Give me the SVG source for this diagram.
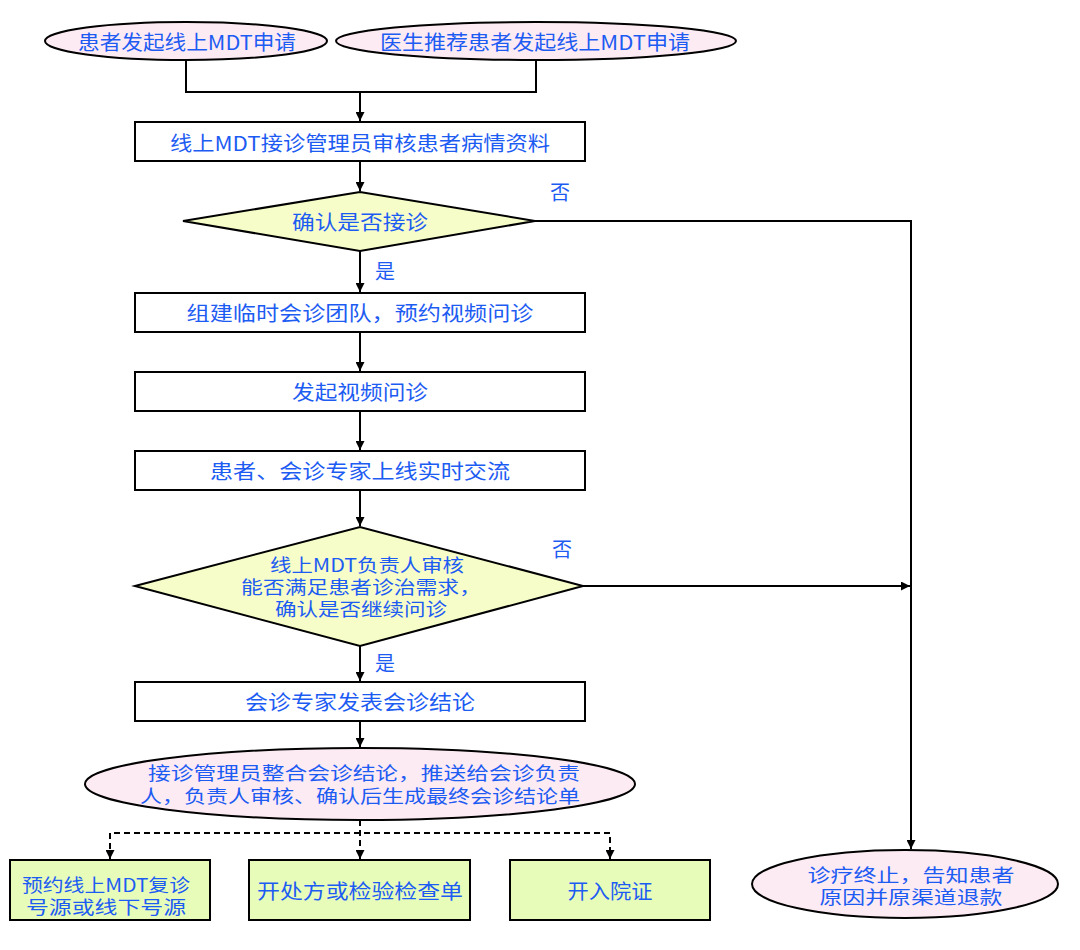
<svg xmlns="http://www.w3.org/2000/svg" width="1080" height="950" viewBox="0 0 1080 950">
<defs>
<marker id="ah" viewBox="0 0 10 10" refX="10" refY="5" markerWidth="9" markerHeight="9" markerUnits="userSpaceOnUse" orient="auto">
<path d="M0,0 L10,5 L0,10 Z" fill="#000"/>
</marker>
<style>
.t{font-family:"Noto Sans CJK SC","Noto Sans",sans-serif;font-size:20px;fill:#1d5cf2;text-anchor:middle;dominant-baseline:central;}
.m{font-size:18px;}
.box{fill:#fff;stroke:#000;stroke-width:2;}
.ell{fill:#fdebf3;stroke:#000;stroke-width:2;}
.dia{fill:#f7fdc9;stroke:#000;stroke-width:2;}
.grn{fill:#e8fcba;stroke:#000;stroke-width:2;}
.ln{fill:none;stroke:#000;stroke-width:2;}
.dl{fill:none;stroke:#000;stroke-width:2;stroke-dasharray:6,4;}
</style>
</defs>
<rect width="1080" height="950" fill="#fff"/>

<g id="connectors">
<path class="ln" d="M186,60 V92 H536 V60"/>
<path class="ln" d="M360,92 V121" marker-end="url(#ah)"/>
<path class="ln" d="M360,161 V191" marker-end="url(#ah)"/>
<path class="ln" d="M535,221 H911 V849" marker-end="url(#ah)"/>
<path class="ln" d="M360,251 V292" marker-end="url(#ah)"/>
<path class="ln" d="M360,332 V371" marker-end="url(#ah)"/>
<path class="ln" d="M360,411 V450" marker-end="url(#ah)"/>
<path class="ln" d="M360,490 V526" marker-end="url(#ah)"/>
<path class="ln" d="M583,586 H910" marker-end="url(#ah)"/>
<path class="ln" d="M360,646 V681" marker-end="url(#ah)"/>
<path class="ln" d="M360,721 V747" marker-end="url(#ah)"/>
<path class="dl" d="M360,820 V859"/>
<path class="dl" d="M110,859 V833 H610 V859"/>
<path class="ln" d="M110,850 V859" marker-end="url(#ah)"/>
<path class="ln" d="M360,850 V859" marker-end="url(#ah)"/>
<path class="ln" d="M610,850 V859" marker-end="url(#ah)"/>
<text class="t" x="560" y="191">否</text>
<text class="t" x="385" y="270">是</text>
<text class="t" x="562" y="548">否</text>
<text class="t" x="385" y="662">是</text>
</g>

<g id="start1">
<ellipse class="ell" cx="186" cy="41" rx="141" ry="19"/>
<text class="t" x="187" y="41" textLength="218" lengthAdjust="spacingAndGlyphs">患者发起线上MDT申请</text>
</g>
<g id="start2">
<ellipse class="ell" cx="536" cy="41" rx="200" ry="19"/>
<text class="t" x="535" y="41" textLength="310" lengthAdjust="spacingAndGlyphs">医生推荐患者发起线上MDT申请</text>
</g>
<g id="review">
<rect class="box" x="135" y="122" width="450" height="39"/>
<text class="t" x="360" y="142" textLength="380" lengthAdjust="spacingAndGlyphs">线上MDT接诊管理员审核患者病情资料</text>
</g>
<g id="decide1">
<polygon class="dia" points="183,221 360,192 535,221 360,251"/>
<text class="t" x="360" y="221" textLength="136" lengthAdjust="spacingAndGlyphs">确认是否接诊</text>
</g>
<g id="team">
<rect class="box" x="135" y="293" width="450" height="39"/>
<text class="t" x="360" y="312" textLength="347" lengthAdjust="spacingAndGlyphs">组建临时会诊团队，预约视频问诊</text>
</g>
<g id="video">
<rect class="box" x="135" y="372" width="450" height="39"/>
<text class="t" x="360" y="391" textLength="136" lengthAdjust="spacingAndGlyphs">发起视频问诊</text>
</g>
<g id="online">
<rect class="box" x="135" y="451" width="450" height="39"/>
<text class="t" x="360" y="470" textLength="300" lengthAdjust="spacingAndGlyphs">患者、会诊专家上线实时交流</text>
</g>
<g id="decide2">
<polygon class="dia" points="135,586 360,527 583,586 360,646"/>
<text class="t m"><tspan x="367" y="564" textLength="194" lengthAdjust="spacingAndGlyphs">线上MDT负责人审核</tspan><tspan x="361" y="586" textLength="240" lengthAdjust="spacingAndGlyphs">能否满足患者诊治需求，</tspan><tspan x="361" y="608" textLength="172" lengthAdjust="spacingAndGlyphs">确认是否继续问诊</tspan></text>
</g>
<g id="conclusion">
<rect class="box" x="135" y="682" width="450" height="39"/>
<text class="t" x="360" y="701" textLength="230" lengthAdjust="spacingAndGlyphs">会诊专家发表会诊结论</text>
</g>
<g id="integrate">
<ellipse class="ell" cx="360" cy="784" rx="275" ry="36"/>
<text class="t m"><tspan x="364" y="772" textLength="432" lengthAdjust="spacingAndGlyphs">接诊管理员整合会诊结论，推送给会诊负责</tspan><tspan x="360" y="795" textLength="440" lengthAdjust="spacingAndGlyphs">人，负责人审核、确认后生成最终会诊结论单</tspan></text>
</g>
<g id="revisit">
<rect class="grn" x="10" y="860" width="200" height="60"/>
<text class="t m"><tspan x="106" y="884" textLength="168" lengthAdjust="spacingAndGlyphs">预约线上MDT复诊</tspan><tspan x="106" y="906" textLength="160" lengthAdjust="spacingAndGlyphs">号源或线下号源</tspan></text>
</g>
<g id="prescribe">
<rect class="grn" x="249" y="860" width="221" height="60"/>
<text class="t" x="360" y="890" textLength="206" lengthAdjust="spacingAndGlyphs">开处方或检验检查单</text>
</g>
<g id="admit">
<rect class="grn" x="510" y="860" width="200" height="60"/>
<text class="t" x="610" y="890" textLength="85" lengthAdjust="spacingAndGlyphs">开入院证</text>
</g>
<g id="terminate">
<ellipse class="ell" cx="905" cy="884" rx="153" ry="34"/>
<text class="t m"><tspan x="911" y="874" textLength="207" lengthAdjust="spacingAndGlyphs">诊疗终止，告知患者</tspan><tspan x="911" y="896" textLength="183" lengthAdjust="spacingAndGlyphs">原因并原渠道退款</tspan></text>
</g>
</svg>
